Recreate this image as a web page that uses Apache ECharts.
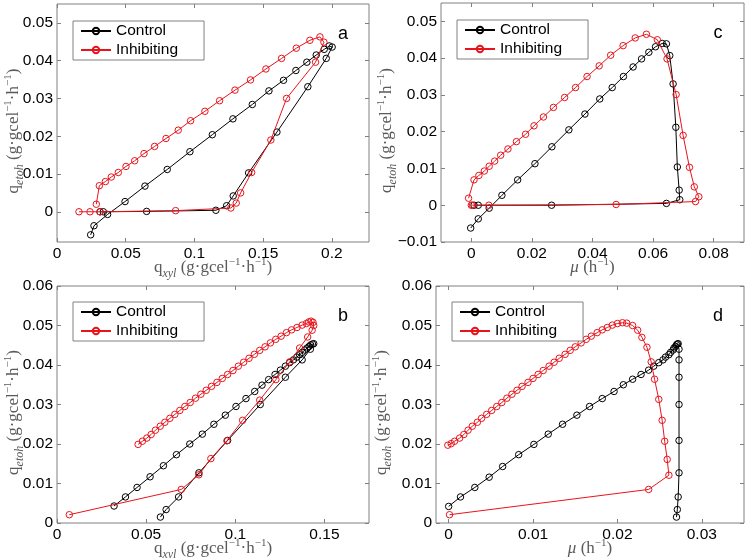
<!DOCTYPE html>
<html><head><meta charset="utf-8">
<script src="https://cdn.jsdelivr.net/npm/echarts@6/dist/echarts.min.js"></script>
<style>html,body{margin:0;padding:0;background:#fff}#c{width:747px;height:558px}</style>
</head><body><div id="c"></div>
<script>
// ---- data (x, y) pairs ----
const aControl = [[0.0245,-0.0061],[0.0269,-0.0037],[0.0368,-0.0007],[0.0495,0.0027],[0.0640,0.0068],[0.0802,0.0112],[0.0967,0.0159],[0.1130,0.0204],[0.1280,0.0246],[0.1421,0.0284],[0.1542,0.0320],[0.1648,0.0348],[0.1738,0.0374],[0.1818,0.0396],[0.1886,0.0415],[0.1944,0.0430],[0.1981,0.0439],[0.2002,0.0436],[0.1959,0.0406],[0.1825,0.0331],[0.1600,0.0211],[0.1394,0.0103],[0.1282,0.0042],[0.1234,0.0016],[0.1156,0.0004],[0.0652,0.0001],[0.0337,0.0000],[0.0313,0.0000]];
const aInhib = [[0.0286,0.0020],[0.0308,0.0069],[0.0352,0.0080],[0.0395,0.0092],[0.0446,0.0104],[0.0502,0.0120],[0.0565,0.0135],[0.0633,0.0154],[0.0710,0.0173],[0.0793,0.0194],[0.0882,0.0216],[0.0972,0.0241],[0.1076,0.0266],[0.1183,0.0294],[0.1295,0.0322],[0.1408,0.0349],[0.1520,0.0378],[0.1634,0.0406],[0.1741,0.0433],[0.1840,0.0454],[0.1913,0.0463],[0.1942,0.0449],[0.1881,0.0396],[0.1670,0.0300],[0.1556,0.0190],[0.1416,0.0104],[0.1336,0.0050],[0.1304,0.0023],[0.1265,0.0010],[0.0863,0.0003],[0.0313,0.0000],[0.0240,0.0000],[0.0160,0.0000]];
const cControl = [[-0.0002,-0.0062],[0.0023,-0.0037],[0.0059,-0.0008],[0.0101,0.0027],[0.0153,0.0069],[0.0210,0.0113],[0.0266,0.0159],[0.0322,0.0205],[0.0375,0.0248],[0.0424,0.0289],[0.0465,0.0320],[0.0502,0.0350],[0.0534,0.0376],[0.0562,0.0398],[0.0586,0.0416],[0.0608,0.0431],[0.0630,0.0440],[0.0644,0.0439],[0.0655,0.0407],[0.0666,0.0330],[0.0675,0.0212],[0.0680,0.0104],[0.0686,0.0041],[0.0688,0.0015],[0.0644,0.0005],[0.0265,0.0000],[0.0023,0.0000],[0.0009,0.0000]];
const cInhib = [[-0.0009,0.0019],[0.0009,0.0069],[0.0025,0.0081],[0.0043,0.0093],[0.0059,0.0106],[0.0077,0.0120],[0.0097,0.0136],[0.0121,0.0153],[0.0149,0.0173],[0.0179,0.0193],[0.0207,0.0216],[0.0238,0.0240],[0.0271,0.0266],[0.0308,0.0293],[0.0344,0.0320],[0.0382,0.0350],[0.0422,0.0379],[0.0460,0.0408],[0.0501,0.0434],[0.0541,0.0455],[0.0578,0.0465],[0.0614,0.0450],[0.0646,0.0398],[0.0676,0.0301],[0.0699,0.0190],[0.0720,0.0103],[0.0736,0.0050],[0.0751,0.0023],[0.0740,0.0010],[0.0478,0.0002],[0.0058,0.0000],[0.0004,0.0000],[0.0000,0.0000]];
const bControl = [[0.0320,0.0043],[0.0384,0.0066],[0.0449,0.0090],[0.0522,0.0117],[0.0597,0.0145],[0.0670,0.0173],[0.0745,0.0200],[0.0815,0.0225],[0.0880,0.0250],[0.0944,0.0273],[0.1004,0.0295],[0.1060,0.0315],[0.1109,0.0333],[0.1150,0.0349],[0.1187,0.0363],[0.1223,0.0376],[0.1253,0.0387],[0.1281,0.0397],[0.1305,0.0406],[0.1326,0.0413],[0.1345,0.0420],[0.1361,0.0426],[0.1376,0.0432],[0.1390,0.0438],[0.1403,0.0443],[0.1414,0.0447],[0.1423,0.0451],[0.1433,0.0453],[0.1440,0.0454],[0.1421,0.0440],[0.1375,0.0413],[0.1281,0.0369],[0.1140,0.0300],[0.0957,0.0209],[0.0796,0.0127],[0.0682,0.0066],[0.0612,0.0034],[0.0580,0.0015]];
const bInhib = [[0.0069,0.0021],[0.0697,0.0085],[0.0796,0.0122],[0.0863,0.0163],[0.0953,0.0208],[0.1041,0.0260],[0.1137,0.0311],[0.1228,0.0363],[0.1305,0.0408],[0.1361,0.0443],[0.1406,0.0471],[0.1431,0.0488],[0.1440,0.0500],[0.1436,0.0508],[0.1425,0.0511],[0.1412,0.0509],[0.1399,0.0505],[0.1375,0.0501],[0.1346,0.0495],[0.1316,0.0489],[0.1287,0.0482],[0.1257,0.0473],[0.1227,0.0465],[0.1197,0.0456],[0.1167,0.0446],[0.1137,0.0437],[0.1107,0.0427],[0.1077,0.0417],[0.1047,0.0407],[0.1017,0.0397],[0.0987,0.0386],[0.0957,0.0376],[0.0927,0.0366],[0.0897,0.0356],[0.0867,0.0346],[0.0837,0.0336],[0.0807,0.0326],[0.0777,0.0316],[0.0747,0.0305],[0.0717,0.0295],[0.0689,0.0285],[0.0661,0.0275],[0.0633,0.0265],[0.0605,0.0255],[0.0579,0.0245],[0.0552,0.0235],[0.0528,0.0224],[0.0504,0.0215],[0.0479,0.0207],[0.0455,0.0199]];
const dControl = [[0.0000,0.0042],[0.0014,0.0066],[0.0031,0.0090],[0.0048,0.0116],[0.0064,0.0143],[0.0083,0.0173],[0.0101,0.0199],[0.0118,0.0225],[0.0135,0.0250],[0.0152,0.0273],[0.0167,0.0295],[0.0182,0.0315],[0.0196,0.0333],[0.0207,0.0350],[0.0218,0.0364],[0.0228,0.0376],[0.0237,0.0387],[0.0243,0.0397],[0.0249,0.0406],[0.0254,0.0413],[0.0257,0.0420],[0.0261,0.0426],[0.0263,0.0432],[0.0266,0.0438],[0.0267,0.0443],[0.0269,0.0447],[0.0270,0.0451],[0.0271,0.0453],[0.0272,0.0454],[0.0273,0.0440],[0.0273,0.0413],[0.0273,0.0369],[0.0273,0.0300],[0.0273,0.0209],[0.0273,0.0127],[0.0272,0.0066],[0.0271,0.0034],[0.0270,0.0015]];
const dInhib = [[0.0001,0.0021],[0.0237,0.0085],[0.0261,0.0121],[0.0259,0.0161],[0.0256,0.0207],[0.0253,0.0260],[0.0249,0.0313],[0.0244,0.0364],[0.0240,0.0408],[0.0235,0.0445],[0.0229,0.0470],[0.0224,0.0488],[0.0218,0.0500],[0.0211,0.0506],[0.0206,0.0507],[0.0200,0.0505],[0.0194,0.0501],[0.0188,0.0495],[0.0182,0.0489],[0.0176,0.0482],[0.0169,0.0473],[0.0163,0.0465],[0.0157,0.0456],[0.0150,0.0446],[0.0144,0.0437],[0.0138,0.0427],[0.0131,0.0417],[0.0125,0.0407],[0.0119,0.0397],[0.0112,0.0386],[0.0106,0.0376],[0.0100,0.0366],[0.0094,0.0356],[0.0087,0.0346],[0.0081,0.0336],[0.0075,0.0326],[0.0069,0.0316],[0.0063,0.0305],[0.0057,0.0295],[0.0051,0.0285],[0.0045,0.0275],[0.0039,0.0265],[0.0034,0.0255],[0.0028,0.0245],[0.0023,0.0235],[0.0018,0.0224],[0.0013,0.0215],[0.0007,0.0207],[0.0003,0.0201],[-0.0001,0.0197]];

// ---- tick labels ----
const aXTicks = [0, 0.05, 0.1, 0.15, 0.2];
const aYTicks = [0, 0.01, 0.02, 0.03, 0.04, 0.05];
const cXTicks = [0, 0.02, 0.04, 0.06, 0.08];
const cYTicks = [-0.01, 0, 0.01, 0.02, 0.03, 0.04, 0.05];
const bXTicks = [0, 0.05, 0.1, 0.15];
const bYTicks = [0, 0.01, 0.02, 0.03, 0.04, 0.05, 0.06];
const dXTicks = [0, 0.01, 0.02, 0.03];
const dYTicks = [0, 0.01, 0.02, 0.03, 0.04, 0.05, 0.06];
const seriesNames = ['Control', 'Inhibiting'];
const panelLetters = ['a', 'c', 'b', 'd'];

// ---- layout ----
const grids = [
  {left: 57, top: 4, width: 312, height: 238},
  {left: 441, top: 3, width: 303, height: 239},
  {left: 57, top: 286, width: 312, height: 237},
  {left: 436, top: 286, width: 308, height: 237}
];
const ranges = [
  {x: [0, 0.227], y: [-0.008, 0.055], xt: aXTicks, yt: aYTicks},
  {x: [-0.01, 0.09], y: [-0.01, 0.055], xt: cXTicks, yt: cYTicks},
  {x: [0, 0.175], y: [0, 0.06], xt: bXTicks, yt: bYTicks},
  {x: [-0.0015, 0.035], y: [0, 0.06], xt: dXTicks, yt: dYTicks}
];
const panelData = [[aControl, aInhib], [cControl, cInhib], [bControl, bInhib], [dControl, dInhib]];

const SANS = 'Liberation Sans, Arial, Helvetica, sans-serif';
const SERIF = 'Liberation Serif, DejaVu Serif, serif';
const BOX = '#808080';
const RED = '#e8141c';
const fmt = v => (v < 0 ? '\u2212' : '') + String(Math.abs(v));

const xAxes = [], yAxes = [], series = [], legends = [], graphics = [];
grids.forEach((g, i) => {
  const r = ranges[i];
  ['bottom', 'top'].forEach(pos => {
    xAxes.push({type: 'value', gridIndex: i, min: r.x[0], max: r.x[1], position: pos,
      axisLine: {show: false, onZero: false},
      axisTick: {show: true, inside: true, length: 4, customValues: r.xt, lineStyle: {color: BOX}},
      axisLabel: {show: pos === 'bottom', customValues: r.xt, formatter: fmt, fontFamily: SANS, fontSize: 15.5, color: '#000', margin: 4},
      splitLine: {show: false}});
  });
  ['left', 'right'].forEach(pos => {
    yAxes.push({type: 'value', gridIndex: i, min: r.y[0], max: r.y[1], position: pos,
      axisLine: {show: false, onZero: false},
      axisTick: {show: true, inside: true, length: 4, customValues: r.yt, lineStyle: {color: BOX}},
      axisLabel: {show: pos === 'left', customValues: r.yt, formatter: fmt, fontFamily: SANS, fontSize: 15.5, color: '#000', margin: 4},
      splitLine: {show: false}});
  });
  panelData[i].forEach((d, k) => {
    const col = k === 0 ? '#000' : RED;
    series.push({type: 'line', name: seriesNames[k], xAxisIndex: 2 * i, yAxisIndex: 2 * i, data: d,
      symbol: 'circle', symbolSize: 6.5,
      itemStyle: {color: 'rgba(255,255,255,0)', borderColor: col, borderWidth: 1},
      lineStyle: {color: col, width: 1}, emphasis: {disabled: true}, animation: false, z: 2 + k});
  });
  legends.push({orient: 'vertical', left: g.left + 16, top: g.top + (i < 2 ? 17 : 16),
    itemWidth: 30, itemHeight: 8, itemGap: 3, padding: [2, 26, 2, 7],
    borderColor: BOX, borderWidth: 1, backgroundColor: '#fff',
    textStyle: {fontFamily: SANS, fontSize: 15.5, color: '#000'}, data: seriesNames, selectedMode: false});
  // panel letter
  graphics.push({type: 'text', x: g.left + g.width - 26, y: g.top + 30,
    style: {text: panelLetters[i], font: '18px ' + SANS, fill: '#000', align: 'center', verticalAlign: 'middle'}});
});

const GREY = '#5a5a5a';
const rich = {
  n: {fontFamily: SERIF, fontSize: 17, fill: GREY, color: GREY, lineHeight: 23},
  m: {fontFamily: SERIF, fontSize: 17, fontStyle: 'italic', fill: GREY, color: GREY, lineHeight: 23},
  sub: {fontFamily: SERIF, fontSize: 12, fontStyle: 'italic', fill: GREY, color: GREY, verticalAlign: 'bottom', lineHeight: 12},
  sup: {fontFamily: SERIF, fontSize: 11, fill: GREY, color: GREY, verticalAlign: 'top', lineHeight: 11}
};
const unitTxt = '{n|(g\u00b7gcel}{sup|\u22121}{n|\u00b7h}{sup|\u22121}{n|)}';
const xTitleQ = '{n|q}{sub|xyl}{n| }' + unitTxt;
const xTitleMu = '{m|\u03bc}{n| (h}{sup|\u22121}{n|)}';
const yTitle = '{n|q}{sub|etoh}{n| }' + unitTxt;
const xTitles = [xTitleQ, xTitleMu, xTitleQ, xTitleMu];
const yTitleX = [14, 387, 14, 382];
grids.forEach((g, i) => {
  graphics.push({type: 'text', x: g.left + g.width / 2, y: g.top + g.height + 26,
    style: {text: xTitles[i], rich: rich, align: 'center', verticalAlign: 'middle'}});
  graphics.push({type: 'text', x: yTitleX[i], y: g.top + g.height / 2 + 8, rotation: Math.PI / 2,
    style: {text: yTitle, rich: rich, align: 'center', verticalAlign: 'middle'}});
});

const chart = echarts.init(document.getElementById('c'));
chart.setOption({
  animation: false,
  backgroundColor: '#fff',
  grid: grids.map(g => Object.assign({show: true, borderColor: BOX, borderWidth: 1, backgroundColor: '#fff', containLabel: false}, g)),
  xAxis: xAxes, yAxis: yAxes, series: series, legend: legends, graphic: graphics
});
</script></body></html>
